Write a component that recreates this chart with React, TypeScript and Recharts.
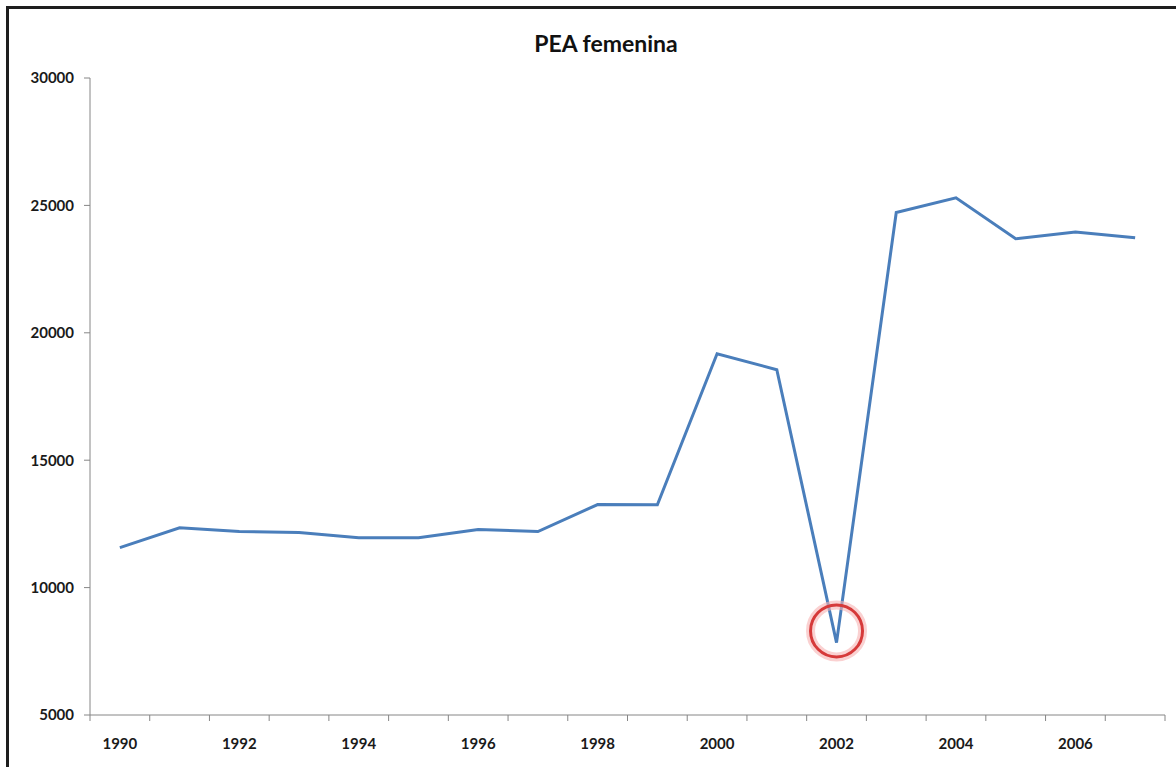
import { LineChart, Line, XAxis, YAxis, ReferenceDot } from 'recharts';

const YEARS = [1990, 1991, 1992, 1993, 1994, 1995, 1996, 1997, 1998, 1999, 2000, 2001, 2002, 2003, 2004, 2005, 2006, 2007];
const PEA_FEMENINA = [11570, 12350, 12200, 12160, 11960, 11960, 12280, 12200, 13260, 13250, 19180, 18550, 7840, 24720, 25300, 23690, 23960, 23730];
const YEAR_LABELS = [1990, 1992, 1994, 1996, 1998, 2000, 2002, 2004, 2006];
const Y_TICKS = [5000, 10000, 15000, 20000, 25000, 30000];

// highlighted outlier (circle drawn slightly above the 2002 point)
const HIGHLIGHT_YEAR = 2002;
const HIGHLIGHT_VALUE = 8300;

const data = YEARS.map((year, i) => ({ year, pea: PEA_FEMENINA[i] }));

// Excel-style tick marks sit between categories
const boundaries = [...YEARS.map((y) => y - 0.5), YEARS[YEARS.length - 1] + 0.5];
const domain = [boundaries[0], boundaries[boundaries.length - 1]];

const AXIS_COLOR = '#868686';
const FONT = 'Lato, "Open Sans", sans-serif';

// label each year halfway between its two tick marks
const YearTick = (props: any) => {
  const { x, y, payload, width } = props;
  const year = payload.value + 0.5;
  if (!YEAR_LABELS.includes(year)) return <g />;
  const half = (width || 1075) / YEARS.length / 2;
  return (
    <text x={x + half} y={y} dy="0.71em" textAnchor="middle" fill="#1a1a1a" fontSize={15} fontWeight={700} fontFamily={FONT}>
      {year}
    </text>
  );
};

const HighlightCircle = (props: any) => {
  const { cx, cy, r } = props;
  return (
    <g>
      <circle cx={cx} cy={cy} r={r} fill="none" stroke="#f6b3b3" strokeWidth={9} strokeOpacity={0.6} />
      <circle cx={cx} cy={cy} r={r} fill="none" stroke="#d63a3a" strokeWidth={3} />
    </g>
  );
};

const App = () => {
  return (
    <div style={{ position: 'absolute', left: 0, top: 0, width: 1176, height: 767, background: '#fff', overflow: 'hidden', fontFamily: FONT }}>
      <div
        style={{
          position: 'absolute',
          left: 6,
          top: 6,
          width: 1170,
          height: 761,
          borderLeft: '3px solid #1e1e1e',
          borderTop: '3px solid #1e1e1e',
          boxSizing: 'border-box',
        }}
      />
      <div
        style={{
          position: 'absolute',
          left: 0,
          top: 32,
          width: 1212,
          textAlign: 'center',
          fontSize: 23,
          fontWeight: 700,
          lineHeight: 1,
          color: '#111',
        }}
      >
        PEA femenina
      </div>
      <div style={{ position: 'absolute', left: 0, top: 0 }}>
        <LineChart width={1176} height={767} data={data} margin={{ top: 78, right: 11, bottom: 12, left: 0 }}>
          <XAxis
            type="number"
            dataKey="year"
            domain={domain}
            ticks={boundaries}
            interval={0}
            height={40}
            tickSize={6}
            tickMargin={17}
            tick={YearTick}
            stroke={AXIS_COLOR}
            tickLine={{ stroke: AXIS_COLOR }}
            axisLine={{ stroke: AXIS_COLOR }}
          />
          <YAxis
            domain={[5000, 30000]}
            ticks={Y_TICKS}
            width={90}
            tickSize={6}
            tickMargin={10}
            stroke={AXIS_COLOR}
            tickLine={{ stroke: AXIS_COLOR }}
            axisLine={{ stroke: AXIS_COLOR }}
            tick={{ fill: '#1a1a1a', fontSize: 15, fontWeight: 700, fontFamily: FONT }}
          />
          <Line
            type="linear"
            dataKey="pea"
            stroke="#4A7EBB"
            strokeWidth={3}
            dot={false}
            activeDot={false}
            isAnimationActive={false}
          />
          <ReferenceDot
            x={HIGHLIGHT_YEAR}
            y={HIGHLIGHT_VALUE}
            r={26}
            ifOverflow="visible"
            shape={HighlightCircle}
          />
        </LineChart>
      </div>
    </div>
  );
};

export default App;
